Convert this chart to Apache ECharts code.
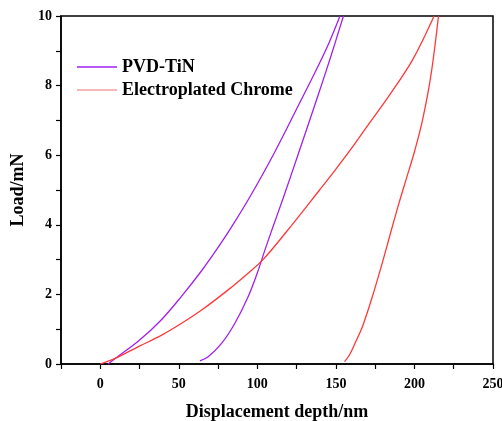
<!DOCTYPE html>
<html>
<head>
<meta charset="utf-8">
<script src="https://cdn.jsdelivr.net/npm/echarts@6/dist/echarts.min.js"></script>
<style>
  html, body { margin: 0; padding: 0; background: #fff; }
  #main { width: 502px; height: 421px; }
</style>
</head>
<body>
<div id="main"></div>
<script>
// displacement (nm), load (mN), each branch with x ascending
var tinLoadX = [5, 9.5, 24.3, 39.1, 51.8, 64.5, 75, 84, 95.2, 110, 126.9, 138, 145.5, 152.6]
var tinLoadY = [0, 0.16, 0.66, 1.28, 1.95, 2.68, 3.35, 3.97, 4.8, 6.0, 7.5, 8.5, 9.22, 10]
var tinUnloadX = [63.4, 68.7, 77.2, 85.7, 94.1, 100, 105, 110, 116.3, 126.9, 138.5, 146.5, 154.8]
var tinUnloadY = [0.09, 0.21, 0.59, 1.17, 1.93, 2.62, 3.3, 3.95, 4.75, 6.15, 7.7, 8.8, 10]
var crLoadX = [0, 9.5, 24.3, 39.1, 51.8, 64.5, 81.4, 94.1, 103.6, 118.5, 139.6, 150, 160, 171.3, 184, 198.8, 212.5]
var crLoadY = [0, 0.16, 0.50, 0.83, 1.17, 1.55, 2.13, 2.61, 3.0, 3.8, 5.0, 5.6, 6.2, 6.92, 7.72, 8.74, 10]
var crUnloadX = [155.5, 158.5, 162, 167.1, 173.5, 179.8, 185, 190, 195, 200, 205.1, 210.5, 215.3]
var crUnloadY = [0.07, 0.25, 0.58, 1.1, 1.98, 2.95, 3.8, 4.6, 5.35, 6.1, 7.0, 8.3, 10]

var seriesNames = ['PVD-TiN', 'Electroplated Chrome']
var xTicks = [0, 50, 100, 150, 200, 250]
var yTicks = [0, 2, 4, 6, 8, 10]

function pairs(xs, ys){
  var out = []
  for(let i=0;i<xs.length;i++){
    out.push([xs[i], ys[i]])
  }
  return out
}
// loading branch, a gap, then unloading branch
var tinData = pairs(tinLoadX, tinLoadY).concat([[null, null]]).concat(pairs(tinUnloadX, tinUnloadY))
var crData = pairs(crLoadX, crLoadY).concat([[null, null]]).concat(pairs(crUnloadX, crUnloadY))

var font = '"Liberation Serif", "Times New Roman", serif'
var chart = echarts.init(document.getElementById('main'), null, { renderer: 'canvas' })

var options = {
  animation: false,
  backgroundColor: '#fff',
  grid: {
    left: 61, right: 9, top: 16, bottom: 57,
    outerBoundsMode: 'none',
    containLabel: false,
    show: true,
    borderColor: '#000',
    borderWidth: 1.5
  },
  legend: {
    orient: 'vertical',
    left: 77,
    top: 58,
    padding: 0,
    icon: 'rect',
    itemWidth: 40,
    itemHeight: 1.5,
    itemGap: 5,
    textStyle: { fontFamily: font, fontWeight: 'bold', fontSize: 18, color: '#000' },
    data: [
      { name: seriesNames[0], itemStyle: { color: '#A020F0' } },
      { name: seriesNames[1], itemStyle: { color: '#F4A0A0' } }
    ]
  },
  xAxis: {
    type: 'value',
    min: -25,
    max: 250,
    interval: 25,
    name: 'Displacement depth/nm',
    nameLocation: 'middle',
    nameGap: 39,
    nameTextStyle: { fontFamily: font, fontWeight: 'bold', fontSize: 18, color: '#000' },
    axisLine: { lineStyle: { color: '#000', width: 1.5 } },
    axisTick: { inside: false, length: 5, lineStyle: { color: '#000', width: 1.2 } },
    axisLabel: {
      fontFamily: font, fontWeight: 'bold', fontSize: 14, color: '#000', margin: 13,
      formatter: function(v){ return xTicks.indexOf(v) >= 0 ? String(v) : '' }
    },
    splitLine: { show: false }
  },
  yAxis: {
    type: 'value',
    min: 0,
    max: 10,
    interval: 1,
    name: 'Load/mN',
    nameLocation: 'middle',
    nameGap: 27,
    nameTextStyle: { fontFamily: font, fontWeight: 'bold', fontSize: 18, color: '#000' },
    axisLine: { onZero: false, lineStyle: { color: '#000', width: 1.5 } },
    axisTick: { inside: false, length: 5, lineStyle: { color: '#000', width: 1.2 } },
    axisLabel: {
      fontFamily: font, fontWeight: 'bold', fontSize: 14, color: '#000', margin: 9,
      formatter: function(v){ return yTicks.indexOf(v) >= 0 ? String(v) : '' }
    },
    splitLine: { show: false }
  },
  series: [
    {
      name: seriesNames[0],
      type: 'line',
      data: tinData,
      smooth: 0.35,
      symbol: 'none',
      connectNulls: false,
      itemStyle: { color: '#A020F0' },
      lineStyle: { color: '#A020F0', width: 1.3 }
    },
    {
      name: seriesNames[1],
      type: 'line',
      data: crData,
      smooth: 0.35,
      symbol: 'none',
      connectNulls: false,
      itemStyle: { color: '#FF3838' },
      lineStyle: { color: '#FF3838', width: 1.3 }
    }
  ]
}
chart.setOption(options, true)
</script>
</body>
</html>
